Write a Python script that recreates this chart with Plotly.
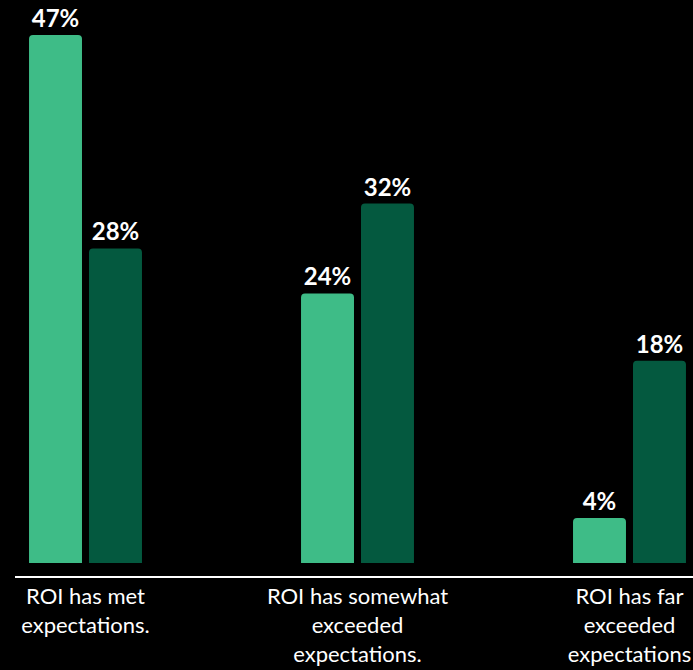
import plotly.graph_objects as go

# Survey responses on ROI, two respondent groups per outcome
categories = [
    "ROI has met<br>expectations.",
    "ROI has somewhat<br>exceeded<br>expectations.",
    "ROI has far<br>exceeded<br>expectations",
]
series_a = [47, 24, 4]
series_b = [28, 32, 18]

light_green = "#3EBC87"
dark_green = "#04593F"

x_pos = list(range(len(categories)))

fig = go.Figure()
for name, vals, color in [("Series A", series_a, light_green), ("Series B", series_b, dark_green)]:
    fig.add_trace(go.Bar(
        x=x_pos, y=vals, name=name,
        marker=dict(color=color, line=dict(width=0), cornerradius=4),
        texttemplate="%{y}%", textposition="outside", cliponaxis=False,
        textfont=dict(family="Lato", size=24, color="white", weight="bold"),
    ))

fig.update_layout(
    width=693, height=670,
    margin=dict(l=15, r=0, t=0, b=94),
    paper_bgcolor="black", plot_bgcolor="black",
    barmode="group", bargap=0.559, bargroupgap=0.117,
    showlegend=False,
    font=dict(family="Lato", color="white"),
    xaxis=dict(
        range=[-0.2592, 2.2335], tickmode="array", tickvals=x_pos, ticktext=categories,
        showline=True, linecolor="white", linewidth=2, showgrid=False, zeroline=False,
        ticks="", tickfont=dict(family="Lato", size=22, color="white"),
    ),
    yaxis=dict(range=[-1.157, 50.12], visible=False, showgrid=False, zeroline=False),
)

fig.write_html("out.html")
